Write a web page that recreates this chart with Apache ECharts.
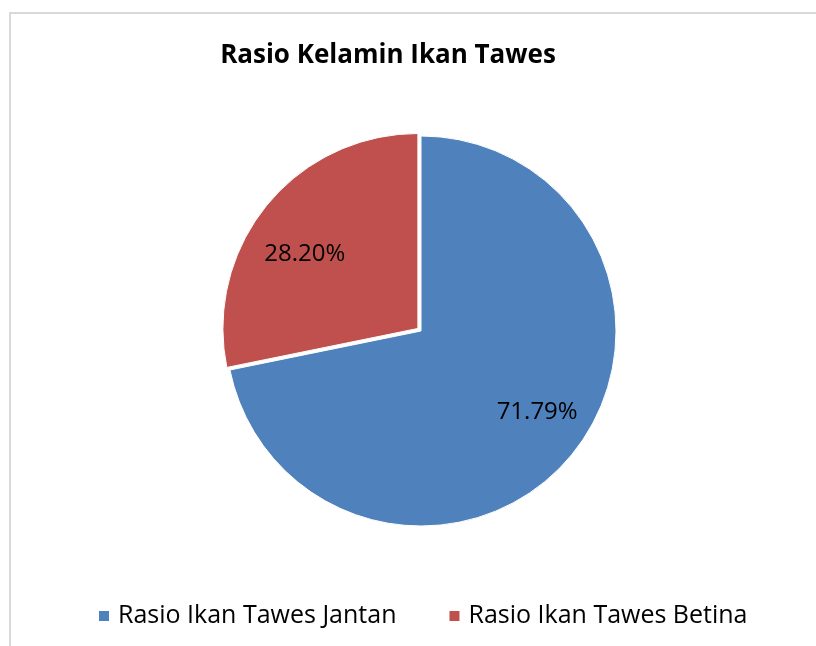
<!DOCTYPE html>
<html>
<head>
<meta charset="utf-8">
<script src="https://cdn.jsdelivr.net/npm/echarts@6/dist/echarts.min.js"></script>
<style>
html,body{margin:0;padding:0;background:#fff;width:816px;height:646px;overflow:hidden;}
#frame{position:absolute;left:9px;top:12px;width:830px;height:660px;border:2px solid #d9d9d9;box-sizing:border-box;pointer-events:none;}
#chart{position:absolute;left:0;top:0;width:816px;height:646px;}
</style>
</head>
<body>
<div id="chart"></div>
<div id="frame"></div>
<script>
const titleText = 'Rasio Kelamin Ikan Tawes';
const categories = ['Rasio Ikan Tawes Jantan', 'Rasio Ikan Tawes Betina'];
const values = [71.79, 28.20];
const colors = ['#4F81BD', '#C0504D'];

const chart = echarts.init(document.getElementById('chart'), null, {renderer: 'canvas'});
const font = '"Open Sans", "Noto Sans", sans-serif';

const mainData = categories.map((c, i) => ({
  name: c, value: values[i],
  selected: i === 1,
  itemStyle: {color: colors[i]}
}));
const labelData = categories.map((c, i) => ({
  name: c, value: values[i],
  selected: i === 1,
  itemStyle: {color: 'rgba(255,255,255,0)', borderWidth: 0}
}));

chart.setOption({
  animation: false,
  title: {
    text: titleText, left: 388, top: 43, textAlign: 'center', padding: 0,
    textStyle: {fontFamily: font, fontWeight: 'bold', fontSize: 26, color: '#000'}
  },
  legend: {
    data: categories, top: 602, left: 97, padding: 0,
    itemWidth: 12, itemHeight: 12, itemGap: 51, icon: 'rect',
    textStyle: {fontFamily: font, fontSize: 25, lineHeight: 28, color: '#000', padding: [0, 0, 0, 3]}
  },
  series: [{
    type: 'pie', center: [421, 331], radius: 195,
    startAngle: 90, clockwise: true,
    selectedMode: 'single', selectedOffset: 4,
    silent: true,
    label: {show: false}, labelLine: {show: false},
    itemStyle: {borderColor: '#fff', borderWidth: 1},
    data: mainData
  }, {
    type: 'pie', center: [421, 333], radius: [80, 195],
    startAngle: 95, clockwise: true, silent: true,
    selectedMode: 'single', selectedOffset: 0,
    legendHoverLink: false,
    z: 5,
    itemStyle: {borderWidth: 0},
    label: {
      show: true, position: 'inside', color: '#000',
      fontFamily: font, fontSize: 24,
      formatter: p => p.value.toFixed(2) + '%'
    },
    labelLine: {show: false},
    data: labelData
  }]
});
</script>
</body>
</html>
